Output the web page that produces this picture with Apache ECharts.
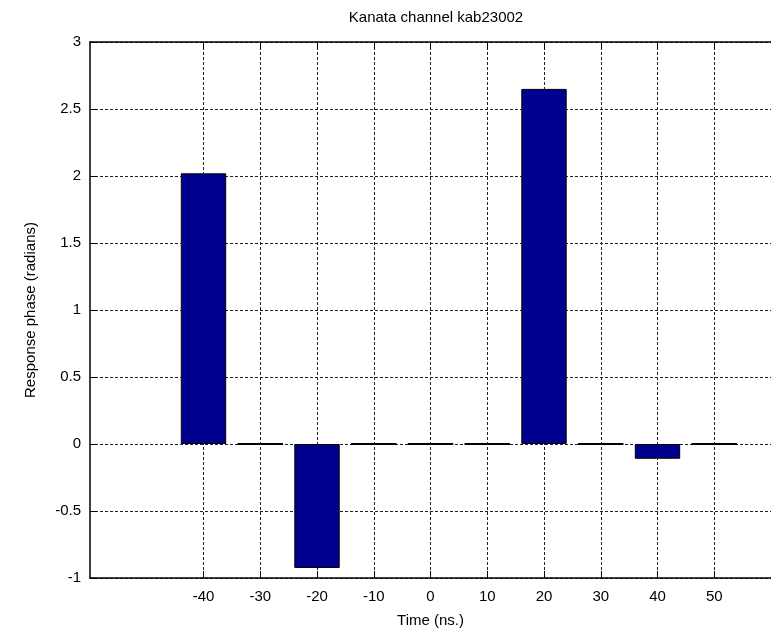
<!DOCTYPE html>
<html>
<head>
<meta charset="utf-8">
<script src="https://cdn.jsdelivr.net/npm/echarts@6/dist/echarts.min.js"></script>
<style>
html,body{margin:0;padding:0;background:#fff;}
#chart{width:771px;height:635px;}
</style>
</head>
<body>
<div id="chart"></div>
<script>
// Data
var times = [-40, -30, -20, -10, 0, 10, 20, 30, 40, 50];
var phase = [2.02, 0, -0.925, 0, 0, 0, 2.65, 0, -0.11, 0];
var xTicks = [-40, -30, -20, -10, 0, 10, 20, 30, 40, 50];
var titleText = 'Kanata channel kab23002';
var xName = 'Time (ns.)';
var yName = 'Response phase (radians)';

var FONT = 'Liberation Sans, Arial, Helvetica, sans-serif';
var FS = 15;

var pairs = times.map(function (t, i) {
  var item = {value: [t, phase[i]]};
  if (phase[i] === 0) item.itemStyle = {borderWidth: 2};
  return item;
});

var chart = echarts.init(document.getElementById('chart'), null, {renderer: 'canvas'});
var gridDash = {show: true, lineStyle: {color: '#222', width: 1, type: [3, 2]}};
var axisLineStyle = {show: true, onZero: false, lineStyle: {color: '#000', width: 1.5}};
chart.setOption({
  animation: false,
  backgroundColor: '#fff',
  title: {
    text: titleText,
    left: 431, top: 5, textAlign: 'center',
    textStyle: {fontFamily: FONT, fontSize: FS, fontWeight: 'normal', color: '#000'}
  },
  grid: {left: 90, right: -1, top: 42, bottom: 57, containLabel: false},
  xAxis: [{
    type: 'value', min: -60, max: 60, position: 'bottom',
    name: xName, nameLocation: 'middle', nameGap: 35,
    nameTextStyle: {fontFamily: FONT, fontSize: FS, color: '#000'},
    axisLine: axisLineStyle,
    axisTick: {show: true, inside: true, length: 7, customValues: xTicks, lineStyle: {color: '#000'}},
    axisLabel: {customValues: xTicks, margin: 11, fontFamily: FONT, fontSize: FS, color: '#000'},
    splitLine: gridDash
  }, {
    type: 'value', min: -60, max: 60, position: 'top',
    axisLine: axisLineStyle,
    axisTick: {show: true, inside: true, length: 7, customValues: xTicks, lineStyle: {color: '#000'}},
    axisLabel: {show: false},
    splitLine: {show: false}
  }],
  yAxis: [{
    type: 'value', min: -1, max: 3, interval: 0.5,
    name: yName, nameLocation: 'middle', nameGap: 52,
    nameTextStyle: {fontFamily: FONT, fontSize: FS, color: '#000'},
    axisLine: axisLineStyle,
    axisTick: {show: true, inside: true, length: 7, lineStyle: {color: '#000'}},
    axisLabel: {margin: 9, fontFamily: FONT, fontSize: FS, color: '#000'},
    splitLine: gridDash
  }],
  series: [{
    type: 'bar',
    xAxisIndex: 0, yAxisIndex: 0,
    data: pairs,
    barWidth: '80%',
    itemStyle: {color: '#00008F', borderColor: '#000', borderWidth: 1},
    emphasis: {disabled: true}
  }]
});
</script>
</body>
</html>
